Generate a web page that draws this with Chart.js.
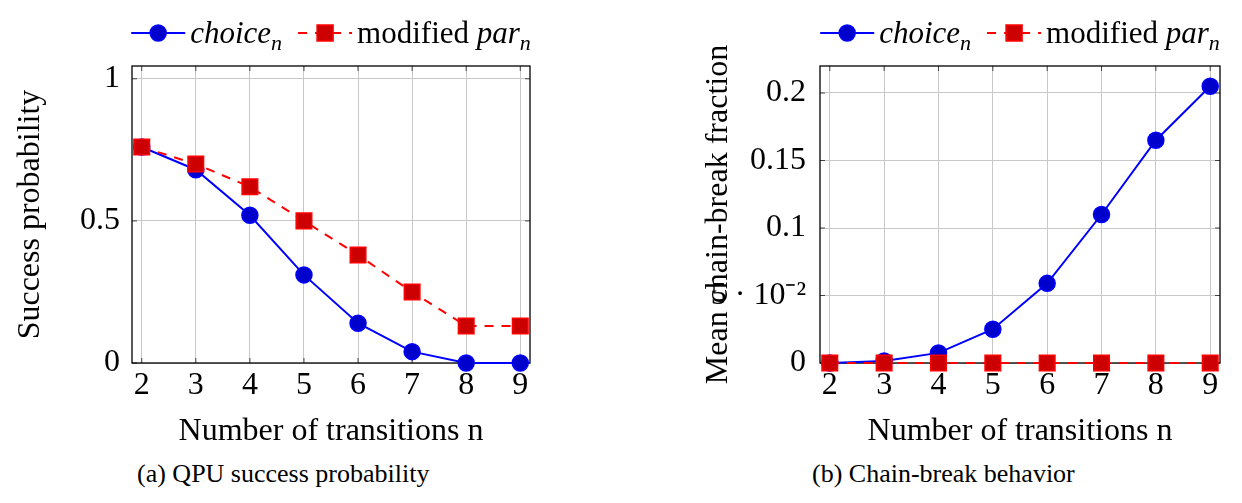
<!DOCTYPE html>
<html>
<head>
<meta charset="utf-8">
<script src="https://cdn.jsdelivr.net/npm/chart.js@4.4.1/dist/chart.umd.min.js"></script>
<style>
  body { margin: 0; background: #fff; }
  #wrap { position: relative; width: 1242px; height: 503px; font-family: 'Liberation Serif', serif; }
  .panel { position: absolute; top: 0; width: 621px; height: 455px; }
  .cap { position: absolute; top: 459px; font-size: 26px; line-height: 30px; color: #000; white-space: nowrap; }
</style>
</head>
<body>
<div id="wrap">
  <div class="panel" style="left:0"><canvas id="success" width="621" height="455"></canvas></div>
  <div class="panel" style="left:621px"><canvas id="breaks" width="621" height="455"></canvas></div>
  <div class="cap" style="left:137px">(a) QPU success probability</div>
  <div class="cap" style="left:812px">(b) Chain-break behavior</div>
</div>
<script>
// number of transitions n
const transitions = [2, 3, 4, 5, 6, 7, 8, 9];

// (a) QPU success probability
const successChoice = [0.76, 0.68, 0.52, 0.31, 0.14, 0.04, 0, 0];
const successPar = [0.76, 0.70, 0.62, 0.50, 0.38, 0.25, 0.13, 0.13];
const successTicks = [0, 0.5, 1];
const successTickLabels = ['0', '0.5', '1'];

// (b) mean chain-break fraction
const breakChoice = [0, 0.0015, 0.0075, 0.025, 0.059, 0.11, 0.165, 0.205];
const breakPar = [0, 0, 0, 0, 0, 0, 0, 0];
const breakTicks = [0, 0.05, 0.1, 0.15, 0.2];
const breakTickLabels = ['0', '5 · 10⁻²', '0.1', '0.15', '0.2'];

// legend labels, split so parts can be italic / subscript
const choiceLabel = [{ text: 'choice', italic: true }, { text: 'n', italic: true, sub: true }];
const parLabel = [{ text: 'modified ' }, { text: 'par', italic: true }, { text: 'n', italic: true, sub: true }];

const FONT = 'Liberation Serif';
const BLUE = '#0000ff', BLUE_FILL = '#0000cc';
const RED = '#ff0000', RED_FILL = '#cc0000';
const GRID = '#c8c8c8';

const toPoints = (ys) => transitions.map((x, i) => ({ x: x, y: ys[i] }));

function partFont(p) {
  return (p.italic ? 'italic ' : '') + (p.sub ? 22 : 31) + 'px "' + FONT + '"';
}

function drawSample(ctx, x, y, w, item) {
  ctx.save();
  ctx.strokeStyle = item.color;
  ctx.lineWidth = 2;
  ctx.setLineDash(item.dash);
  ctx.beginPath();
  ctx.moveTo(x, y);
  ctx.lineTo(x + w, y);
  ctx.stroke();
  ctx.setLineDash([]);
  ctx.fillStyle = item.fill;
  ctx.lineWidth = 1.5;
  const cx = x + w / 2;
  ctx.beginPath();
  if (item.square) {
    ctx.rect(cx - 8, y - 8, 16, 16);
  } else {
    ctx.arc(cx, y, 8, 0, Math.PI * 2);
  }
  ctx.fill();
  ctx.stroke();
  ctx.restore();
}

const framePlugin = {
  id: 'frame',
  beforeDatasetsDraw(chart) {
    const { ctx, chartArea: a, scales } = chart;
    ctx.save();
    // small inner tick marks like pgfplots
    ctx.strokeStyle = '#444';
    ctx.lineWidth = 1;
    ctx.beginPath();
    scales.x.ticks.forEach(t => {
      const px = scales.x.getPixelForValue(t.value);
      ctx.moveTo(px, a.top); ctx.lineTo(px, a.top + 5);
      ctx.moveTo(px, a.bottom); ctx.lineTo(px, a.bottom - 5);
    });
    scales.y.ticks.forEach(t => {
      const py = scales.y.getPixelForValue(t.value);
      ctx.moveTo(a.left, py); ctx.lineTo(a.left + 5, py);
      ctx.moveTo(a.right, py); ctx.lineTo(a.right - 5, py);
    });
    ctx.stroke();
    ctx.strokeStyle = '#000';
    ctx.lineWidth = 1.3;
    ctx.strokeRect(a.left, a.top, a.right - a.left, a.bottom - a.top);
    ctx.restore();
  },
  afterDraw(chart) {
    const { ctx, chartArea: a } = chart;
    const items = [
      { parts: choiceLabel, color: BLUE, fill: BLUE_FILL, dash: [], square: false },
      { parts: parLabel, color: RED, fill: RED_FILL, dash: [9, 8], square: true }
    ];
    const sampleW = 54, gap = 5, spacing = 16;
    ctx.save();
    items.forEach(it => {
      it.w = 0;
      it.parts.forEach(p => { ctx.font = partFont(p); p.w = ctx.measureText(p.text).width; it.w += p.w; });
    });
    const total = items.reduce((s, it) => s + sampleW + gap + it.w, 0) + spacing;
    let x = (a.left + a.right) / 2 - total / 2;
    const y = 33, base = 43;
    ctx.fillStyle = '#000';
    ctx.textBaseline = 'alphabetic';
    items.forEach((it, k) => {
      drawSample(ctx, x, y, sampleW, it);
      x += sampleW + gap;
      it.parts.forEach(p => {
        ctx.font = partFont(p);
        ctx.fillText(p.text, x, p.sub ? base + 7 : base);
        x += p.w;
      });
      if (k === 0) x += spacing;
    });
    ctx.restore();
  }
};

function buildChart(id, cfg) {
  const tickFont = { family: FONT, size: 32 };
  return new Chart(document.getElementById(id), {
    type: 'line',
    data: {
      datasets: [
        {
          label: 'modified par_n', data: toPoints(cfg.par), order: 0, clip: false,
          borderColor: RED, backgroundColor: RED_FILL, borderWidth: 2, borderDash: [9, 8],
          pointStyle: 'rect', pointRadius: 11, pointBorderWidth: 1.5,
          pointBackgroundColor: RED_FILL, pointBorderColor: RED
        },
        {
          label: 'choice_n', data: toPoints(cfg.choice), order: 1, clip: false,
          borderColor: BLUE, backgroundColor: BLUE_FILL, borderWidth: 2,
          pointStyle: 'circle', pointRadius: 8, pointBorderWidth: 1.5,
          pointBackgroundColor: BLUE_FILL, pointBorderColor: BLUE
        }
      ]
    },
    options: {
      responsive: false,
      animation: false,
      devicePixelRatio: 1,
      layout: { padding: { left: 0, right: cfg.padRight, top: 66, bottom: 0 } },
      plugins: { legend: { display: false }, tooltip: { enabled: false } },
      scales: {
        x: {
          type: 'linear', min: 1.82, max: 9.18,
          afterBuildTicks: s => { s.ticks = transitions.map(v => ({ value: v })); },
          afterFit: s => { s.height = 92; },
          grid: { color: GRID, lineWidth: 1, drawTicks: false },
          border: { display: false },
          ticks: { font: tickFont, color: '#000', padding: 3, maxRotation: 0, autoSkip: false },
          title: { display: true, text: 'Number of transitions n', font: tickFont, color: '#000', padding: { top: 0, bottom: 4 } }
        },
        y: {
          type: 'linear', min: 0, max: cfg.yMax,
          afterBuildTicks: s => { s.ticks = cfg.ticks.map(v => ({ value: v })); },
          afterFit: s => { s.width = cfg.yWidth; },
          grid: { color: GRID, lineWidth: 1, drawTicks: false },
          border: { display: false },
          ticks: { font: tickFont, color: '#000', padding: cfg.tickPad, autoSkip: false,
                   callback: (v, i) => cfg.tickLabels[i] },
          title: { display: true, text: cfg.yTitle, font: tickFont, color: '#000', padding: { top: cfg.titlePad, bottom: 0 } }
        }
      }
    },
    plugins: [framePlugin]
  });
}

buildChart('success', {
  choice: successChoice, par: successPar, ticks: successTicks, tickLabels: successTickLabels,
  yMax: 1.045, yWidth: 132, padRight: 91, tickPad: 12, titlePad: 11, yTitle: 'Success probability'
});

buildChart('breaks', {
  choice: breakChoice, par: breakPar, ticks: breakTicks, tickLabels: breakTickLabels,
  yMax: 0.22, yWidth: 199, padRight: 22, tickPad: 14, titlePad: 78, yTitle: 'Mean chain-break fraction'
});
</script>
</body>
</html>
